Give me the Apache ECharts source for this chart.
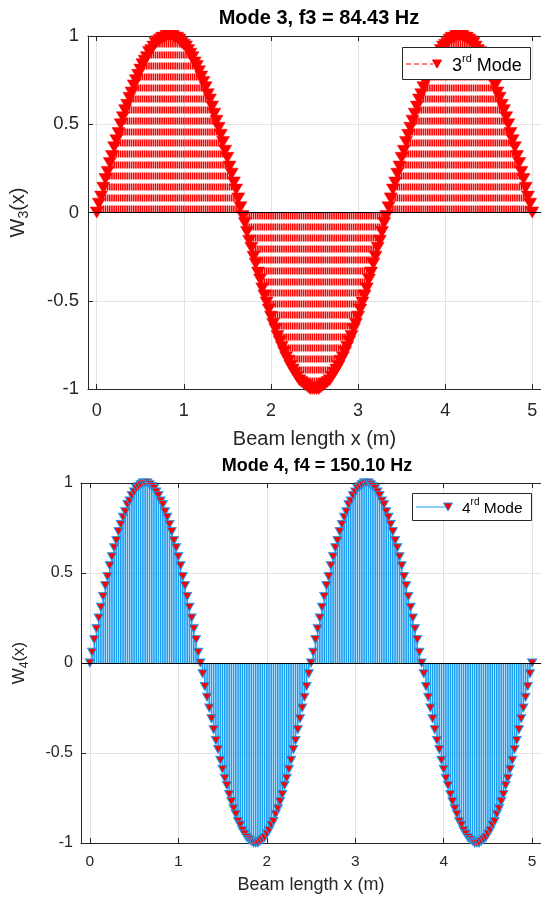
<!DOCTYPE html>
<html>
<head>
<meta charset="utf-8">
<script src="https://cdn.jsdelivr.net/npm/echarts@6.0.0/dist/echarts.min.js"></script>
<style>
  html, body { margin: 0; padding: 0; background: #fff; }
  #main { width: 541px; height: 898px; }
</style>
</head>
<body>
<div id="main"></div>
<script>
// beam samples along x (m), evenly spaced from 0 to 5
var xStart = 0;
var xEnd = 5;
var xTicks = [0, 1, 2, 3, 4, 5];
var yTicks = [-1, -0.5, 0, 0.5, 1];

// mode shape 3
var mode3 = [
  0,.05,.09,.14,.19,.23,.28,.32,.37,.41,.45,.50,.54,.58,.61,.65,.68,.72,.75,.78,.81,.84,.86,.88,.91,.92,.94,.96,.97,.98,.99,.99,1,1,
  1,1,.99,.99,.98,.96,.95,.94,.92,.90,.88,.85,.83,.80,.77,.74,.71,.67,.64,.60,.56,.52,.48,.44,.40,.35,.31,.26,.22,.17,.13,.08,.03,
  -.02,-.06,-.11,-.16,-.20,-.25,-.29,-.34,-.38,-.43,-.47,-.51,-.55,-.59,-.63,-.66,-.70,-.73,-.76,-.79,-.82,-.84,-.87,-.89,-.91,-.93,-.95,-.96,-.97,-.98,-.99,-1,-1,
  -1,
  -1,-1,-.99,-.98,-.97,-.96,-.95,-.93,-.91,-.89,-.87,-.84,-.82,-.79,-.76,-.73,-.70,-.66,-.63,-.59,-.55,-.51,-.47,-.43,-.38,-.34,-.29,-.25,-.20,-.16,-.11,-.06,-.02,
  .03,.08,.13,.17,.22,.26,.31,.35,.40,.44,.48,.52,.56,.60,.64,.67,.71,.74,.77,.80,.83,.85,.88,.90,.92,.94,.95,.96,.98,.99,.99,1,1,
  1,1,.99,.99,.98,.97,.96,.94,.92,.91,.88,.86,.84,.81,.78,.75,.72,.68,.65,.61,.58,.54,.50,.45,.41,.37,.32,.28,.23,.19,.14,.09,.05,0
];

// mode shape 4
var mode4 = [
  0,.06,.13,.19,.25,.31,.37,.43,.48,.54,.59,.64,.68,.73,.77,.81,.84,.88,.90,.93,.95,.97,.98,.99,1,1,
  1,.99,.98,.97,.95,.93,.90,.88,.84,.81,.77,.73,.68,.64,.59,.54,.48,.43,.37,.31,.25,.19,.13,.06,0,
  -.06,-.13,-.19,-.25,-.31,-.37,-.43,-.48,-.54,-.59,-.64,-.68,-.73,-.77,-.81,-.84,-.88,-.90,-.93,-.95,-.97,-.98,-.99,-1,-1,
  -1,-.99,-.98,-.97,-.95,-.93,-.90,-.88,-.84,-.81,-.77,-.73,-.68,-.64,-.59,-.54,-.48,-.43,-.37,-.31,-.25,-.19,-.13,-.06,0,
  .06,.13,.19,.25,.31,.37,.43,.48,.54,.59,.64,.68,.73,.77,.81,.84,.88,.90,.93,.95,.97,.98,.99,1,1,
  1,.99,.98,.97,.95,.93,.90,.88,.84,.81,.77,.73,.68,.64,.59,.54,.48,.43,.37,.31,.25,.19,.13,.06,0,
  -.06,-.13,-.19,-.25,-.31,-.37,-.43,-.48,-.54,-.59,-.64,-.68,-.73,-.77,-.81,-.84,-.88,-.90,-.93,-.95,-.97,-.98,-.99,-1,-1,
  -1,-.99,-.98,-.97,-.95,-.93,-.90,-.88,-.84,-.81,-.77,-.73,-.68,-.64,-.59,-.54,-.48,-.43,-.37,-.31,-.25,-.19,-.13,-.06,0
];

function pairs(ys) {
  var n = ys.length;
  return ys.map(function (y, i) {
    return [xStart + (xEnd - xStart) * i / (n - 1), y];
  });
}

var FONT = '"Liberation Sans", Arial, sans-serif';
var AX = '#262626';
var RED = '#ff0000';
var BLUE = '#1a9cf0';
var downTri = 'path://M0,0L10,0L5,9Z';

function stemSeries(xi, yi, data, color, dash) {
  return {
    type: 'custom',
    xAxisIndex: xi,
    yAxisIndex: yi,
    data: data,
    z: 2,
    renderItem: function (params, api) {
      var p0 = api.coord([api.value(0), 0]);
      var p1 = api.coord([api.value(0), api.value(1)]);
      return {
        type: 'line',
        shape: { x1: p0[0], y1: p0[1], x2: p1[0], y2: p1[1] },
        style: { stroke: color, lineWidth: 1.6, lineDash: dash }
      };
    },
    markLine: {
      silent: true,
      symbol: 'none',
      label: { show: false },
      lineStyle: { color: '#000', width: 1, type: 'solid' },
      data: [{ yAxis: 0 }]
    }
  };
}

function xAxisPair(gi, fs, nfs, margin, nameGap) {
  var bottom = {
    type: 'value', gridIndex: gi, min: -0.1, max: 5.1,
    name: 'Beam length x (m)', nameLocation: 'middle', nameGap: nameGap,
    nameTextStyle: { fontFamily: FONT, fontSize: nfs, color: AX },
    axisLine: { show: true, onZero: false, lineStyle: { color: AX, width: 1 } },
    axisTick: { show: true, inside: true, length: 5, customValues: xTicks, lineStyle: { color: AX } },
    axisLabel: { show: true, customValues: xTicks, margin: margin, fontFamily: FONT, fontSize: fs, color: AX },
    splitLine: { show: true, lineStyle: { color: '#e3e3e3', width: 1 } }
  };
  var top = {
    type: 'value', gridIndex: gi, min: -0.1, max: 5.1, position: 'top',
    axisLine: { show: true, onZero: false, lineStyle: { color: AX, width: 1 } },
    axisTick: { show: true, inside: true, length: 5, customValues: xTicks, lineStyle: { color: AX } },
    axisLabel: { show: false },
    splitLine: { show: false }
  };
  return [bottom, top];
}

function yAxisOf(gi, sub, fs, nfs, nameGap, margin) {
  return {
    type: 'value', gridIndex: gi, min: -1, max: 1, interval: 0.5,
    name: '{n|W}{s|' + sub + '}{n|(x)}', nameLocation: 'middle', nameGap: nameGap, nameRotate: 90,
    nameTextStyle: {
      fontFamily: FONT, color: AX,
      rich: {
        n: { fontFamily: FONT, fontSize: nfs, color: AX, verticalAlign: 'middle', lineHeight: nfs + 6 },
        s: { fontFamily: FONT, fontSize: Math.round(nfs * 0.72), color: AX, verticalAlign: 'bottom', lineHeight: nfs + 6 }
      }
    },
    axisLine: { show: true, onZero: false, lineStyle: { color: AX, width: 1 } },
    axisTick: { show: true, inside: true, length: 5, lineStyle: { color: AX } },
    axisLabel: { margin: margin, fontFamily: FONT, fontSize: fs, color: AX },
    splitLine: { show: true, lineStyle: { color: '#e3e3e3', width: 1 } }
  };
}

var chart = echarts.init(document.getElementById('main'), null, { renderer: 'canvas' });

chart.setOption({
  animation: false,
  backgroundColor: '#fff',
  title: [
    { text: 'Mode 3, f3 = 84.43 Hz', left: 314, top: 3, textAlign: 'center',
      textStyle: { fontFamily: FONT, fontSize: 20, fontWeight: 'bold', color: '#000' } },
    { text: 'Mode 4, f4 = 150.10 Hz', left: 312, top: 452, textAlign: 'center',
      textStyle: { fontFamily: FONT, fontSize: 18, fontWeight: 'bold', color: '#000' } }
  ],
  grid: [
    { left: 86.5, top: 36, width: 455, height: 353, show: false },
    { left: 81, top: 483, width: 461, height: 360, show: false }
  ],
  xAxis: xAxisPair(0, 18, 20, 13, 40).concat(xAxisPair(1, 15.5, 18, 11, 33.5)),
  yAxis: [
    yAxisOf(0, '3', 18.5, 20, 57, 9),
    yAxisOf(1, '4', 16, 17, 50, 8)
  ],
  series: [
    stemSeries(0, 0, pairs(mode3), RED, [7, 4]),
    {
      type: 'scatter', xAxisIndex: 0, yAxisIndex: 0, z: 3,
      data: pairs(mode3),
      symbol: downTri, symbolSize: [13, 11],
      itemStyle: { color: RED, borderColor: RED, borderWidth: 0.5, opacity: 1 }
    },
    stemSeries(2, 1, pairs(mode4), BLUE, null),
    {
      type: 'scatter', xAxisIndex: 2, yAxisIndex: 1, z: 3,
      data: pairs(mode4),
      symbol: downTri, symbolSize: [9, 8],
      itemStyle: { color: RED, borderColor: BLUE, borderWidth: 1, opacity: 1 }
    }
  ],
  graphic: [
    // legend of the upper plot
    { type: 'rect', z: 100, shape: { x: 402.5, y: 47.5, width: 128, height: 32 },
      style: { fill: '#fff', stroke: AX, lineWidth: 1 } },
    { type: 'line', z: 101, shape: { x1: 406, y1: 64, x2: 433, y2: 64 },
      style: { stroke: RED, lineWidth: 1, lineDash: [5, 3] } },
    { type: 'polygon', z: 101, shape: { points: [[432.5, 60], [441.5, 60], [437, 68]] },
      style: { fill: RED, stroke: RED } },
    { type: 'text', z: 101, x: 452, y: 64,
      style: {
        text: '{n|3}{s|rd}{n| Mode}', verticalAlign: 'middle', fontFamily: FONT,
        rich: {
          n: { fontFamily: FONT, fontSize: 18, fill: '#000', verticalAlign: 'bottom', lineHeight: 22 },
          s: { fontFamily: FONT, fontSize: 11, fill: '#000', verticalAlign: 'top', lineHeight: 22 }
        }
      } },
    // legend of the lower plot
    { type: 'rect', z: 100, shape: { x: 412.5, y: 493.5, width: 119, height: 27 },
      style: { fill: '#fff', stroke: AX, lineWidth: 1 } },
    { type: 'line', z: 101, shape: { x1: 416, y1: 507, x2: 445, y2: 507 },
      style: { stroke: BLUE, lineWidth: 1 } },
    { type: 'polygon', z: 101, shape: { points: [[443.5, 503], [452.5, 503], [448, 511]] },
      style: { fill: RED, stroke: BLUE, lineWidth: 1 } },
    { type: 'text', z: 101, x: 462, y: 507,
      style: {
        text: '{n|4}{s|rd}{n| Mode}', verticalAlign: 'middle', fontFamily: FONT,
        rich: {
          n: { fontFamily: FONT, fontSize: 15.5, fill: '#000', verticalAlign: 'bottom', lineHeight: 19 },
          s: { fontFamily: FONT, fontSize: 10, fill: '#000', verticalAlign: 'top', lineHeight: 19 }
        }
      } }
  ]
});
</script>
</body>
</html>
